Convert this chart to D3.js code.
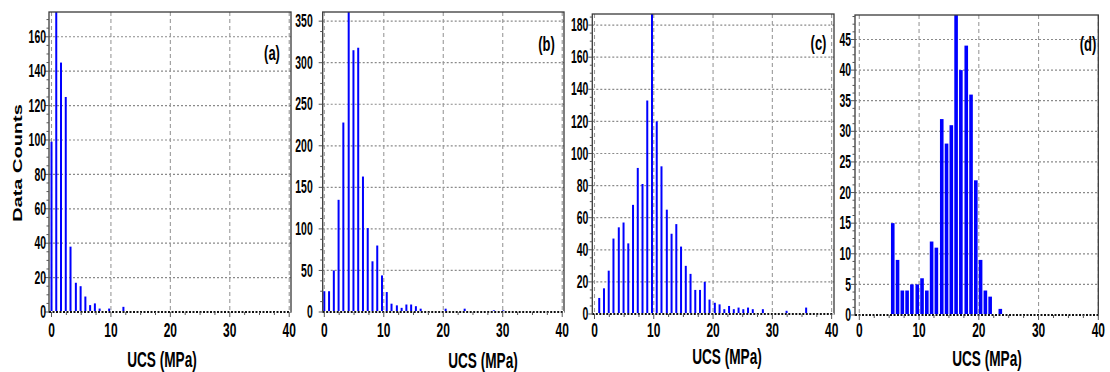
<!DOCTYPE html>
<html>
<head>
<meta charset="utf-8">
<script src="https://cdn.jsdelivr.net/npm/d3@7"></script>
<style>
  body { margin: 0; background: #fff; }
  svg { display: block; }
  text { font-family: "Liberation Sans", Arial, sans-serif; fill: #000; }
</style>
</head>
<body>
<svg id="chart" width="1110" height="372"></svg>
<script>
// UCS histogram bins (MPa, bar centres) and data counts for the four sample groups
const ucsA = [0, 0.8, 1.6, 2.4, 3.2, 4.1, 4.9, 5.7, 6.5, 7.3, 8.1, 9.7, 12.1];
const countsA = [99, 185, 145, 125, 38, 17, 15, 9, 4, 5, 2, 2, 3];

const ucsB = [0, 0.8, 1.6, 2.4, 3.2, 4.1, 4.9, 5.7, 6.5, 7.3, 8.1, 8.9, 9.7, 10.5, 11.3, 12.2, 13.0, 13.8, 14.6, 15.4, 16.2, 20.4, 23.6, 28.5, 30.1];
const countsB = [25, 25, 50, 135, 228, 375, 315, 318, 163, 101, 61, 80, 44, 24, 10, 8, 5, 9, 9, 7, 4, 4, 4, 2, 2];

const ucsC = [0.8, 1.6, 2.4, 3.2, 4.1, 4.9, 5.7, 6.5, 7.3, 8.1, 8.9, 9.7, 10.5, 11.3, 12.2, 13.0, 13.8, 14.6, 15.4, 16.2, 17.0, 17.8, 18.6, 19.4, 20.3, 21.1, 21.9, 22.7, 23.5, 24.3, 25.1, 25.9, 26.7, 28.4, 32.4, 35.7];
const countsC = [10, 16, 27, 47, 54, 57, 44, 68, 91, 81, 133, 195, 120, 92, 65, 50, 56, 42, 30, 25, 15, 15, 20, 9, 7, 6, 3, 5, 3, 4, 3, 4, 3, 3, 2, 4];

const ucsD = [5.6, 6.4, 7.2, 8.0, 8.8, 9.7, 10.5, 11.3, 12.1, 12.9, 13.8, 14.6, 15.4, 16.2, 17.0, 17.9, 18.7, 19.5, 20.3, 21.1, 21.9, 23.6];
const countsD = [15, 9, 4, 4, 5, 5, 6, 4, 12, 11, 32, 28, 31, 52, 40, 44, 36, 22, 9, 4, 3, 1];

// Axis ticks
const xTicks = [0, 10, 20, 30, 40];
const yTicksA = [0, 20, 40, 60, 80, 100, 120, 140, 160];
const yTicksB = [0, 50, 100, 150, 200, 250, 300, 350];
const yTicksC = [0, 20, 40, 60, 80, 100, 120, 140, 160, 180];
const yTicksD = [0, 5, 10, 15, 20, 25, 30, 35, 40, 45];

const panelLabels = ["(a)", "(b)", "(c)", "(d)"];
const xTitle = "UCS (MPa)";
const yTitle = "Data Counts";

// Layout of each panel
const panels = [
  { label: panelLabels[0], ucs: ucsA, counts: countsA, yTicks: yTicksA, yMinor: 5,
    box: { l: 49, r: 291, t: 12, b: 312 }, xDom: [-0.42, 40.3], yMax: 174.4,
    barW: 2, yLabGap: 3, labelPos: [272, 53], titlePos: [162, 359] },
  { label: panelLabels[1], ucs: ucsB, counts: countsB, yTicks: yTicksB, yMinor: 12.5,
    box: { l: 322.7, r: 564, t: 12, b: 312 }, xDom: [-0.27, 40.3], yMax: 361,
    barW: 2, yLabGap: 10, labelPos: [546.5, 44], titlePos: [483, 360] },
  { label: panelLabels[2], ucs: ucsC, counts: countsC, yTicks: yTicksC, yMinor: 5,
    box: { l: 592.3, r: 834, t: 14, b: 314 }, xDom: [-0.37, 40.4], yMax: 186.9,
    barW: 2, yLabGap: 4, labelPos: [818.5, 43], titlePos: [727, 356] },
  { label: panelLabels[3], ucs: ucsD, counts: countsD, yTicks: yTicksD, yMinor: 1.25,
    box: { l: 855, r: 1098.3, t: 15, b: 315 }, xDom: [-0.72, 40], yMax: 49,
    barW: 3.6, yLabGap: 4, labelPos: [1088, 44], titlePos: [987, 358] }
];

const svg = d3.select("#chart");
const SX = 0.6; // horizontal squeeze of the lettering

function squeezedText(g, x, y, txt, opts) {
  return g.append("text")
    .attr("transform", `translate(${x},${y}) scale(${opts.sx || SX},1)` + (opts.rotate ? ` rotate(${opts.rotate})` : ""))
    .attr("text-anchor", opts.anchor || "middle")
    .attr("dominant-baseline", "central")
    .style("font-size", opts.size + "px")
    .style("font-weight", opts.weight || "normal")
    .text(txt);
}

panels.forEach((p, i) => {
  const g = svg.append("g");
  const x = d3.scaleLinear().domain(p.xDom).range([p.box.l, p.box.r]);
  const y = d3.scaleLinear().domain([0, p.yMax]).range([p.box.b, p.box.t]);

  const clipId = "clip" + i;
  svg.append("clipPath").attr("id", clipId)
    .append("rect").attr("x", p.box.l).attr("y", p.box.t)
    .attr("width", p.box.r - p.box.l).attr("height", p.box.b - p.box.t);

  // Horizontal grid (dotted)
  g.append("g").selectAll("line").data(p.yTicks.filter(d => d > 0)).join("line")
    .attr("x1", p.box.l).attr("x2", p.box.r)
    .attr("y1", d => y(d)).attr("y2", d => y(d))
    .attr("stroke", "#8a8a8a").attr("stroke-width", 1.2).attr("stroke-dasharray", "2,2");

  // Vertical grid (dashed)
  g.append("g").selectAll("line").data(xTicks).join("line")
    .attr("x1", d => x(d)).attr("x2", d => x(d))
    .attr("y1", p.box.t).attr("y2", p.box.b)
    .attr("stroke", "#9a9a9a").attr("stroke-width", 1.1).attr("stroke-dasharray", "4,3");

  // Bars
  g.append("g").attr("clip-path", `url(#${clipId})`)
    .selectAll("rect").data(p.ucs.map((u, k) => ({ u, c: p.counts[k] }))).join("rect")
    .attr("x", d => x(d.u) - p.barW / 2)
    .attr("width", p.barW)
    .attr("y", d => y(d.c))
    .attr("height", d => p.box.b - y(d.c))
    .attr("fill", "#0000ff");

  // Frame
  g.append("rect")
    .attr("x", p.box.l).attr("y", p.box.t)
    .attr("width", p.box.r - p.box.l).attr("height", p.box.b - p.box.t)
    .attr("fill", "none").attr("stroke", "#3a3a3a").attr("stroke-width", 1.3);
  // Bottom axis line (dashed, heavy)
  g.append("line")
    .attr("x1", p.box.l).attr("x2", p.box.r).attr("y1", p.box.b).attr("y2", p.box.b)
    .attr("stroke", "#fff").attr("stroke-width", 2);
  g.append("line")
    .attr("x1", p.box.l).attr("x2", p.box.r).attr("y1", p.box.b).attr("y2", p.box.b)
    .attr("stroke", "#111").attr("stroke-width", 2).attr("stroke-dasharray", "2,1.5");

  // X axis ticks (major + minor every 2.5)
  const xMinor = d3.range(0, 40.01, 2.5);
  g.append("g").selectAll("line").data(xMinor).join("line")
    .attr("x1", d => x(d)).attr("x2", d => x(d))
    .attr("y1", p.box.b).attr("y2", d => p.box.b + (d % 10 === 0 ? 5 : 3))
    .attr("stroke", "#555").attr("stroke-width", 1);

  // Y axis ticks
  const yMinor = d3.range(0, p.yMax, p.yMinor);
  g.append("g").selectAll("line").data(yMinor).join("line")
    .attr("x1", p.box.l).attr("x2", d => p.box.l - (p.yTicks.includes(d) ? 4 : 2.5))
    .attr("y1", d => y(d)).attr("y2", d => y(d))
    .attr("stroke", "#555").attr("stroke-width", 1);

  // Tick labels
  p.yTicks.forEach(v => {
    squeezedText(g, p.box.l - p.yLabGap, y(v), String(v), { size: 18, anchor: "end", weight: "bold", sx: 0.58 });
  });
  xTicks.forEach(v => {
    squeezedText(g, x(v), 330, String(v), { size: 20, weight: "bold", sx: 0.6 });
  });

  // Panel label
  squeezedText(g, p.labelPos[0], p.labelPos[1], p.label, { size: 21, sx: 0.62, weight: "bold" });

  // Axis title
  squeezedText(g, p.titlePos[0], p.titlePos[1], xTitle, { size: 22, weight: "bold", sx: 0.62 });
});

// Shared y-axis title on the first panel
squeezedText(svg, 18, 163, yTitle, { size: 20, weight: "bold", sx: 0.6, rotate: -90 });
</script>
</body>
</html>
